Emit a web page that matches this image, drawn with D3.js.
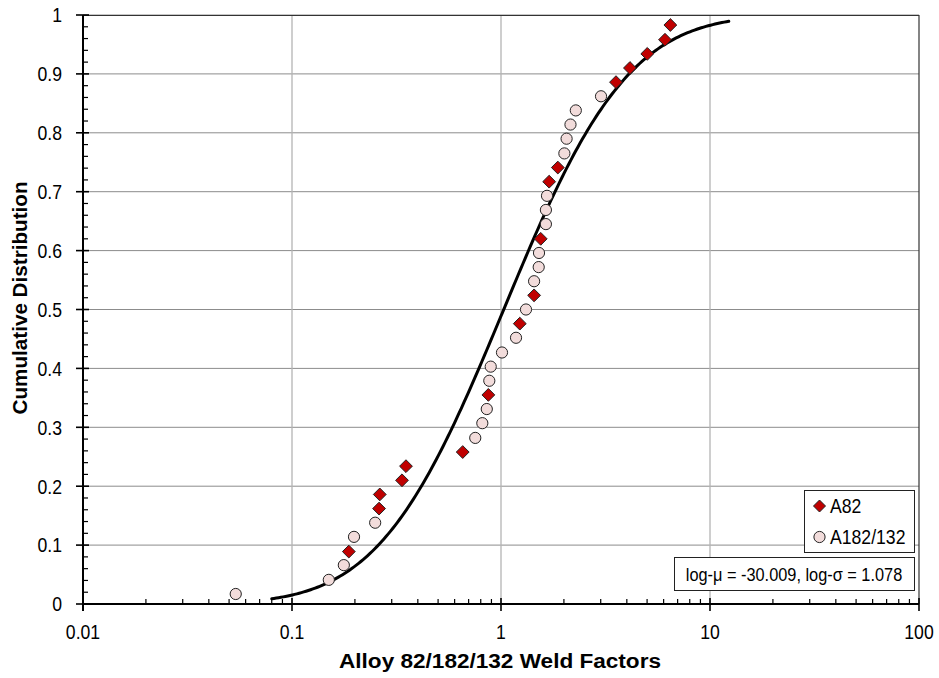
<!DOCTYPE html>
<html><head><meta charset="utf-8">
<script src="https://cdn.jsdelivr.net/npm/d3@7"></script>
<style>
body{margin:0;background:#fff}
svg text{font-family:'Liberation Sans',Arial,sans-serif;fill:#000}
</style>
</head><body><svg id="chart" width="939" height="678"></svg>
<script>
// Weld factor observations (x) with their median-rank cumulative positions (y)
const a82X = [0.187,0.261,0.263,0.336,0.351,0.656,0.870,1.23,1.44,1.549,1.70,1.87,3.55,4.14,5.01,6.09,6.46];
const a82Y = [0.089,0.162,0.186,0.210,0.234,0.258,0.355,0.476,0.524,0.620,0.717,0.741,0.886,0.910,0.934,0.958,0.983];
const a182X = [0.0538,0.150,0.177,0.198,0.250,0.753,0.814,0.855,0.879,0.893,1.011,1.18,1.317,1.44,1.515,1.52,1.64,1.64,1.66,2.01,2.06,2.15,2.28,3.01];
const a182Y = [0.017,0.041,0.066,0.114,0.138,0.282,0.307,0.331,0.379,0.403,0.427,0.452,0.500,0.548,0.572,0.596,0.645,0.669,0.693,0.765,0.790,0.814,0.838,0.862];

// Fitted lognormal distribution (natural-log parameters) and the span it is drawn over
const fitMu = 0.03, fitSigma = 1.078;
const fitRange = [0.08, 12.3];
const fitLabel = "log-\u03bc = -30.009, log-\u03c3 = 1.078";

const xTicks = [0.01, 0.1, 1, 10, 100];
const xTickLabels = ["0.01", "0.1", "1", "10", "100"];
const yTicks = [0,0.1,0.2,0.3,0.4,0.5,0.6,0.7,0.8,0.9,1];
const yTickLabels = ["0","0.1","0.2","0.3","0.4","0.5","0.6","0.7","0.8","0.9","1"];
const seriesNames = ["A82", "A182/132"];

const svg = d3.select("#chart");
const L = 83, R = 919, T = 15, B = 604;
const x = d3.scaleLog().domain([0.01, 100]).range([L, R]);
const y = d3.scaleLinear().domain([0, 1]).range([B, T]);

// condensed text: horizontally squeezed glyphs
const SQ = 0.86;
function label(g, px, py, str, size, anchor, dy) {
  return g.append("text")
    .attr("transform", `translate(${px},${py}) scale(${SQ},1)`)
    .attr("text-anchor", anchor || "start")
    .attr("dy", dy || null)
    .attr("font-size", size).text(str);
}

// gridlines
const grid = svg.append("g");
grid.selectAll("line.h").data(yTicks.slice(1)).join("line")
  .attr("x1", L).attr("x2", R).attr("y1", d => y(d)).attr("y2", d => y(d))
  .attr("stroke", "#8c8c8c").attr("stroke-width", 1);
grid.selectAll("line.v").data(xTicks.slice(1, -1)).join("line")
  .attr("x1", d => x(d)).attr("x2", d => x(d)).attr("y1", T).attr("y2", B)
  .attr("stroke", "#b4b4b4").attr("stroke-width", 1.3);

// frame
svg.append("line").attr("x1", L).attr("x2", R).attr("y1", T + 0.5).attr("y2", T + 0.5).attr("stroke", "#333").attr("stroke-width", 1.2);
svg.append("line").attr("x1", R).attr("x2", R).attr("y1", T).attr("y2", B).attr("stroke", "#333").attr("stroke-width", 1.2);

// x axis: major ticks crossing, minor ticks pointing inward
const xMinor = [];
for (let p = -2; p < 2; p++) for (let k = 2; k <= 9; k++) xMinor.push(k * Math.pow(10, p));
const xa = svg.append("g");
xa.selectAll("line.minor").data(xMinor).join("line")
  .attr("x1", d => x(d)).attr("x2", d => x(d)).attr("y1", B).attr("y2", B - 5)
  .attr("stroke", "#000").attr("stroke-width", 1.2);
xa.selectAll("line.major").data(xTicks).join("line")
  .attr("x1", d => x(d)).attr("x2", d => x(d)).attr("y1", B - 6).attr("y2", B + 7)
  .attr("stroke", "#000").attr("stroke-width", 1.6);
xa.append("line").attr("x1", L).attr("x2", R).attr("y1", B).attr("y2", B).attr("stroke", "#000").attr("stroke-width", 2);
xTicks.forEach((d, i) => label(xa, x(d), 639, xTickLabels[i], 20.5, "middle"));

// y axis
const yMinor = d3.range(0, 50).map(i => i * 0.02).filter(v => Math.round(v * 50) % 5 !== 0);
const ya = svg.append("g");
ya.selectAll("line.minor").data(yMinor).join("line")
  .attr("x1", L).attr("x2", L + 5).attr("y1", d => y(d)).attr("y2", d => y(d))
  .attr("stroke", "#000").attr("stroke-width", 1.2);
ya.selectAll("line.major").data(yTicks).join("line")
  .attr("x1", L - 7).attr("x2", L + 6).attr("y1", d => y(d)).attr("y2", d => y(d))
  .attr("stroke", "#000").attr("stroke-width", 1.6);
ya.append("line").attr("x1", L).attr("x2", L).attr("y1", T).attr("y2", B + 7).attr("stroke", "#000").attr("stroke-width", 2);
yTicks.forEach((d, i) => label(ya, 62, y(d), yTickLabels[i], 20.5, "end", "0.36em"));

// axis titles
svg.append("text").attr("x", 500).attr("y", 668).attr("text-anchor", "middle")
  .attr("font-size", 20).attr("font-weight", "bold")
  .attr("textLength", 322).attr("lengthAdjust", "spacingAndGlyphs")
  .text("Alloy 82/182/132 Weld Factors");
svg.append("text").attr("transform", "translate(27,298) rotate(-90)").attr("text-anchor", "middle")
  .attr("font-size", 20).attr("font-weight", "bold")
  .attr("textLength", 233).attr("lengthAdjust", "spacingAndGlyphs")
  .text("Cumulative Distribution");

// lognormal CDF
function erf(z) {
  const s = Math.sign(z); z = Math.abs(z);
  const t = 1 / (1 + 0.3275911 * z);
  const yv = 1 - (((((1.061405429 * t - 1.453152027) * t) + 1.421413741) * t - 0.284496736) * t + 0.254829592) * t * Math.exp(-z * z);
  return s * yv;
}
const cdf = v => 0.5 * (1 + erf((Math.log(v) - fitMu) / (fitSigma * Math.SQRT2)));
const fitPts = d3.range(0, 201).map(i => fitRange[0] * Math.pow(fitRange[1] / fitRange[0], i / 200));
svg.append("path").datum(fitPts)
  .attr("d", d3.line().x(d => x(d)).y(d => y(cdf(d))))
  .attr("fill", "none").attr("stroke", "#000").attr("stroke-width", 3).attr("stroke-linecap", "round");

// markers
const diamond = (cx, cy, r) => `M${cx},${cy - r}L${cx + r},${cy}L${cx},${cy + r}L${cx - r},${cy}Z`;
svg.append("g").selectAll("circle").data(a182X).join("circle")
  .attr("cx", d => x(d)).attr("cy", (d, i) => y(a182Y[i])).attr("r", 5.6)
  .attr("fill", "#f2dcdb").attr("stroke", "#222").attr("stroke-width", 1);
svg.append("g").selectAll("path").data(a82X).join("path")
  .attr("d", (d, i) => diamond(x(d), y(a82Y[i]), 6.4))
  .attr("fill", "#c00000").attr("stroke", "#222").attr("stroke-width", 1);

// legend
const lg = svg.append("g");
lg.append("rect").attr("x", 804.5).attr("y", 490.5).attr("width", 110).attr("height", 62)
  .attr("fill", "#fff").attr("stroke", "#222").attr("stroke-width", 1);
lg.append("path").attr("d", diamond(819.5, 506, 6)).attr("fill", "#c00000").attr("stroke", "#222");
lg.append("circle").attr("cx", 819.5).attr("cy", 537).attr("r", 5.6).attr("fill", "#f2dcdb").attr("stroke", "#222");
label(lg, 830, 513, seriesNames[0], 20.5);
label(lg, 830, 544, seriesNames[1], 20.5);

// fit parameter box
svg.append("rect").attr("x", 674.5).attr("y", 557.5).attr("width", 240).attr("height", 33)
  .attr("fill", "#fff").attr("stroke", "#222").attr("stroke-width", 1);
label(svg, 794, 580.5, fitLabel, 19, "middle");
</script>
</body></html>
